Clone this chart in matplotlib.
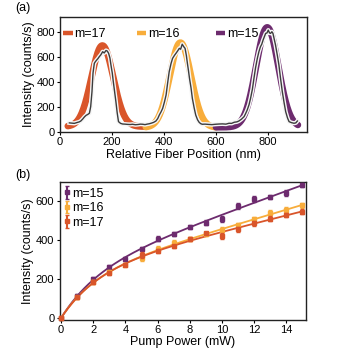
import numpy as np
import matplotlib
matplotlib.use("Agg")
import matplotlib.pyplot as plt
import matplotlib.patheffects as pe
from matplotlib.lines import Line2D
from matplotlib.legend import Legend

plt.rcParams['font.family'] = ['Liberation Sans', 'DejaVu Sans']

# ---------------- Panel (a) data ----------------
labels_a = ["m=17", "m=16", "m=15"]
colors = {"m=15": "#6d2b6e", "m=16": "#f8ad3b", "m=17": "#d9552a"}
# Gaussian fit parameters
fit_center = [163, 463, 797]
fit_sigma = [42, 41, 43]
fit_amp = [650, 680, 800]
fit_offset = [40, 33, 35]
fit_start = [30, 330, 600]
fit_end = [330, 600, 915]

# measured trace (nm, counts/s)
pos_nm = [36, 46, 55, 64, 74, 80, 87, 94, 100, 107, 113, 118, 123, 127, 132, 136, 141, 146,
          151, 157, 164, 170, 177, 182, 187, 192, 196, 201, 205, 210, 215, 220, 225, 233,
          241, 250, 260, 270, 279, 290, 300, 309, 318, 327, 335, 343, 350, 360, 369, 376,
          382, 389, 395, 402, 408, 414, 420, 427, 433, 440, 446, 452, 459, 464, 470, 476,
          481, 486, 490, 494, 498, 504, 509, 516, 522, 529, 535, 541, 547, 558, 570, 584,
          598, 612, 625, 638, 650, 660, 670, 680, 688, 698, 708, 714, 720, 727, 733, 740,
          746, 752, 759, 765, 771, 776, 781, 786, 791, 796, 801, 806, 810, 815, 819, 824,
          829, 836, 842, 848, 855, 862, 868, 875, 881, 890, 900, 907, 913]
counts = [70, 68, 66, 72, 78, 85, 100, 118, 130, 138, 147, 200, 320, 470, 547, 560, 573, 585,
          600, 615, 640, 630, 650, 645, 627, 590, 533, 470, 400, 320, 240, 150, 80, 66,
          61, 60, 58, 57, 59, 55, 57, 60, 59, 56, 60, 63, 67, 74, 85, 105,
          133, 160, 187, 240, 293, 390, 480, 545, 587, 610, 627, 645, 667, 660, 700, 680,
          667, 610, 547, 490, 427, 350, 267, 190, 133, 95, 75, 64, 59, 60, 58, 56,
          59, 61, 62, 60, 67, 66, 75, 78, 85, 100, 120, 145, 173, 215, 267, 340,
          427, 510, 587, 640, 680, 700, 733, 760, 787, 790, 813, 790, 787, 800, 787, 740,
          693, 610, 533, 430, 320, 230, 160, 110, 80, 72, 67, 70, 85]

# ---------------- Panel (b) data ----------------
power = [0, 1, 2, 3, 4, 5, 6, 7, 8, 9, 10, 11, 12, 13, 14, 15]
m15 = [0, 113, 200, 262, 305, 355, 409, 432, 470, 491, 509, 576, 613, 622, 644, 683]
m16 = [0, 107, 187, 236, 275, 307, 357, 386, 407, 432, 455, 478, 508, 540, 557, 579]
m17 = [0, 107, 184, 231, 275, 323, 345, 368, 405, 435, 423, 456, 488, 512, 530, 548]
err15 = [6, 8, 10, 10, 10, 10, 14, 12, 10, 12, 14, 14, 16, 12, 14, 10]
err16 = [6, 8, 10, 10, 10, 12, 12, 14, 10, 10, 12, 12, 12, 14, 14, 12]
err17 = [6, 8, 10, 10, 10, 14, 12, 10, 10, 10, 16, 14, 12, 12, 12, 12]

fig = plt.figure(figsize=(3.39, 3.51), dpi=100)
W, H = 339, 351

def axes_px(l, t, r, b):
    return fig.add_axes([l / W, 1 - b / H, (r - l) / W, (b - t) / H])

ax1 = axes_px(60, 17, 307, 132)
ax2 = axes_px(59.5, 182, 305.5, 319.5)

tick_fs = 8
lab_fs = 9

# ---- panel (a) ----
for lab, c0, s, a, o, x0, x1 in zip(labels_a, fit_center, fit_sigma, fit_amp,
                                     fit_offset, fit_start, fit_end):
    xs = np.linspace(x0, x1, 200)
    ys = o + a * np.exp(-(xs - c0) ** 2 / (2 * s ** 2))
    ax1.plot(xs, ys, color=colors[lab], lw=4.8, solid_capstyle='round',
             solid_joinstyle='round', zorder=3)

ax1.plot(pos_nm, counts, color="#3c3c3c", lw=1.0, zorder=5,
         path_effects=[pe.Stroke(linewidth=3.0, foreground="#f6f6f6"), pe.Normal()])

ax1.set_xlim(0, 950)
ax1.set_ylim(-3, 918)
ax1.set_xticks([0, 200, 400, 600, 800])
ax1.set_yticks([0, 200, 400, 600, 800])
ax1.set_xlabel("Relative Fiber Position (nm)", fontsize=lab_fs, labelpad=1)
ax1.set_ylabel("Intensity (counts/s)", fontsize=lab_fs, labelpad=1)

leg_x = [0.013, 0.310, 0.630]
for lab, lx in zip(labels_a, leg_x):
    h = Line2D([], [], color=colors[lab], lw=3.2, solid_capstyle='butt')
    lg = Legend(ax1, [h], [lab], loc='center left', bbox_to_anchor=(lx, 0.852),
                frameon=False, fontsize=lab_fs, handlelength=0.75,
                handletextpad=0.15, borderpad=0, borderaxespad=0)
    lg.set_zorder(10)
    ax1.add_artist(lg)

# ---- panel (b) ----
P = np.array(power, dtype=float)

def sat_lin_fit(p, y):
    best = None
    for p0 in np.linspace(0.3, 20, 600):
        A = np.column_stack([1 - np.exp(-p / p0), p])
        coef = np.linalg.lstsq(A, y, rcond=None)[0]
        r = np.sum((A @ coef - y) ** 2)
        if best is None or r < best[0]:
            best = (r, p0, coef)
    return best[1], best[2]

pf = np.linspace(0, 15, 300)
series = [("m=15", m15, err15), ("m=16", m16, err16), ("m=17", m17, err17)]
for z, (lab, ys, er) in enumerate(series):
    y = np.array(ys, dtype=float)
    p0, coef = sat_lin_fit(P, y)
    fit = coef[0] * (1 - np.exp(-pf / p0)) + coef[1] * pf
    ax2.plot(pf, fit, color=colors[lab], lw=1.3, zorder=3 + z)

handles = []
for z, (lab, ys, er) in enumerate(series):
    eb = ax2.errorbar(power, ys, yerr=er, fmt='s', ms=2.4, color=colors[lab],
                      elinewidth=1.5, capsize=1.4, capthick=1.0, zorder=6 + z,
                      label=lab, clip_on=False)
    handles.append(eb)

ax2.set_xlim(-0.1, 15.2)
ax2.set_ylim(-8, 700)
ax2.set_xticks([0, 2, 4, 6, 8, 10, 12, 14])
ax2.set_yticks([0, 200, 400, 600])
ax2.set_xlabel("Pump Power (mW)", fontsize=lab_fs, labelpad=1)
ax2.set_ylabel("Intensity (counts/s)", fontsize=lab_fs, labelpad=1)
ax2.legend(handles, [s[0] for s in series], loc='upper left', frameon=False,
           fontsize=lab_fs, handlelength=0.35, handletextpad=0.25,
           labelspacing=0.2, borderpad=0.25, borderaxespad=0.2)

for ax in (ax1, ax2):
    for sp in ax.spines.values():
        sp.set_linewidth(1.0)
        sp.set_color("#222222")
    ax.tick_params(axis='both', labelsize=tick_fs, length=2.5, width=0.8,
                   pad=1.2, direction='out', top=False, right=False)

fig.text(15 / W, 1 - 8 / H, "(a)", fontsize=lab_fs, ha='left', va='center')
fig.text(15 / W, 1 - 175 / H, "(b)", fontsize=lab_fs, ha='left', va='center')

fig.savefig("out.png", dpi=100)
